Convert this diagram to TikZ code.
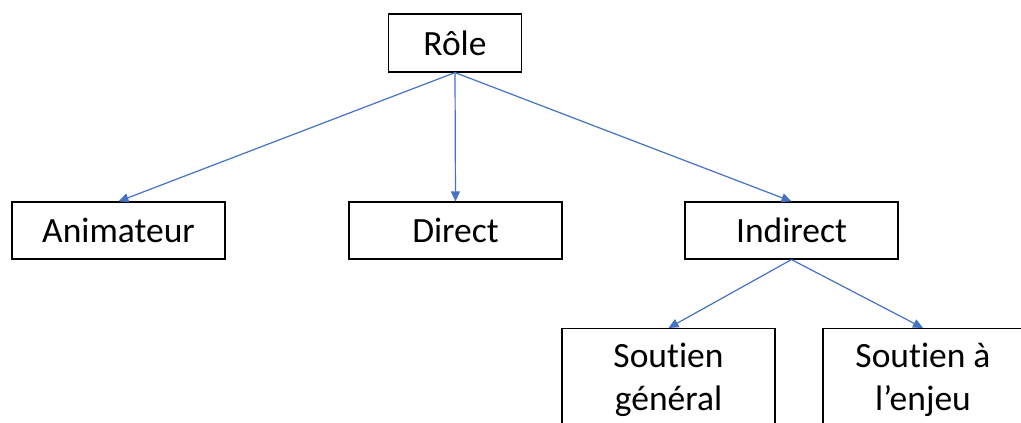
\documentclass[tikz,border=0pt]{standalone}
\usepackage{fontspec}
\setmainfont{Carlito}[Ligatures=NoCommon]
\usetikzlibrary{arrows.meta}
\definecolor{linkblue}{HTML}{4472C4}
\begin{document}
\begin{tikzpicture}[x=1pt,y=-1pt,
  label font/.style={font=\fontsize{35.5}{43}\selectfont},
  box/.style={draw=black,line width=1.2pt,fill=white,inner sep=0pt,
    minimum width=213pt,minimum height=57pt,align=center,label font},
  tallbox/.style={box,minimum height=110pt,anchor=north},
  link/.style={draw=linkblue,line width=1.2pt,-{Triangle[length=10pt,width=9pt]}}]
\useasboundingbox (0,0) rectangle (1021,423);
\clip (0,0) rectangle (1021,423);
\fill[white] (0,0) rectangle (1021,423);
% top level
\node[box,minimum width=133pt,minimum height=58pt] (role) at (455,43) {Rôle};
% second level
\node[box] (anim) at (118.5,230.5) {Animateur};
\node[box] (direct) at (455.5,230.5) {Direct};
\node[box] (indirect) at (791.5,230.5) {Indirect};
% third level, running past the lower edge
\node[tallbox] (gen) at (668.5,328) {};
\node[tallbox,minimum width=200pt] (enjeu) at (923,328) {};
\node[label font,align=center,anchor=north] (gentxt) at (668.5,340) {Soutien\\général};
\node[label font,align=center,anchor=north] (enjeutxt) at (923,340) {Soutien à\\l’enjeu};
% connectors
\draw[link] (role.south) -- (anim.north);
\draw[link] (role.south) -- (direct.north);
\draw[link] (role.south) -- (indirect.north);
\draw[link] (indirect.south) -- (gen.north);
\draw[link] (indirect.south) -- (enjeu.north);
\end{tikzpicture}
\end{document}
